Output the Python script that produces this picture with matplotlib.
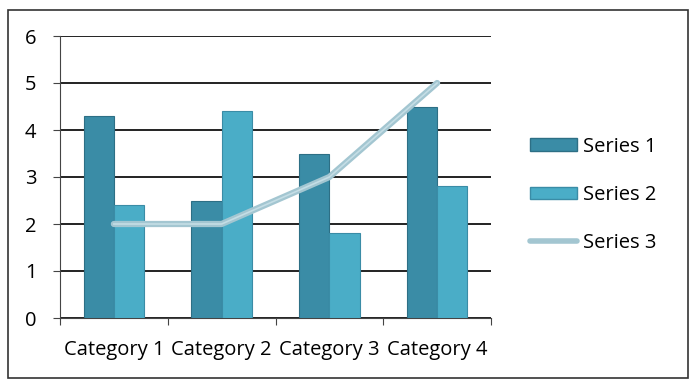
import numpy as np
import matplotlib
matplotlib.use("Agg")
import matplotlib.pyplot as plt
from matplotlib.patches import Rectangle, Patch
from matplotlib.lines import Line2D

categories = ["Category 1", "Category 2", "Category 3", "Category 4"]
series1 = [4.3, 2.5, 3.5, 4.5]
series2 = [2.4, 4.4, 1.8, 2.8]
series3 = [2, 2, 3, 5]

c1 = "#3a8ca6"
c2 = "#4aadc7"
c3 = "#a3c6d1"
fs = 14.5

plt.rcParams['font.family'] = ['Open Sans', 'DejaVu Sans']

fig = plt.figure(figsize=(6.96, 3.91), dpi=100)
fig.patches.append(Rectangle((8 / 696, 1 - 378 / 391), 680 / 696, 368 / 391,
                             transform=fig.transFigure, fill=False,
                             edgecolor="#333333", linewidth=1.2))

ax = fig.add_axes([60 / 696, 1 - 318 / 391, 431 / 696, 282 / 391])
x = np.arange(len(categories))
w = 0.28
ax.bar(x - w, series1, w, align="edge", color=c1, edgecolor="#2d6f85", linewidth=0.8, zorder=3)
ax.bar(x, series2, w, align="edge", color=c2, edgecolor="#3a8ca6", linewidth=0.8, zorder=3)
ax.plot(x, series3, color=c3, linewidth=4.5, solid_capstyle="round", zorder=4)
ax.plot(x, series3, color="#c4dde5", linewidth=1.2, zorder=5)

ax.set_xlim(-0.5, 3.5)
ax.set_ylim(0, 6)
ax.set_yticks(range(7))
ax.yaxis.grid(True, color="#222222", linewidth=1.4, zorder=0)
ax.set_axisbelow(True)
for s in ["top", "right"]:
    ax.spines[s].set_visible(False)
ax.spines["left"].set_color("#444444")
ax.spines["bottom"].set_color("#444444")
ax.set_xticks(np.arange(-0.5, 4, 1))
ax.set_xticklabels([])
ax.set_xticks(x, minor=True)
ax.set_xticklabels(categories, minor=True, fontsize=fs)
ax.tick_params(axis="x", which="minor", length=0, pad=16)
ax.tick_params(axis="x", which="major", length=5, color="#444444")
ax.tick_params(axis="y", length=5, labelsize=fs, color="#444444", pad=12)

handles = [Patch(facecolor=c1, edgecolor="#2d6f85"),
           Patch(facecolor=c2, edgecolor="#3a8ca6"),
           Line2D([0], [0], color=c3, linewidth=4, solid_capstyle="round")]
fig.legend(handles, ["Series 1", "Series 2", "Series 3"], loc="center left",
           bbox_to_anchor=(512 / 696, 1 - 195 / 391), frameon=False,
           fontsize=fs, handlelength=2.35, handleheight=0.6, labelspacing=1.4,
           handletextpad=0.3)

fig.savefig("out.png", dpi=100)
